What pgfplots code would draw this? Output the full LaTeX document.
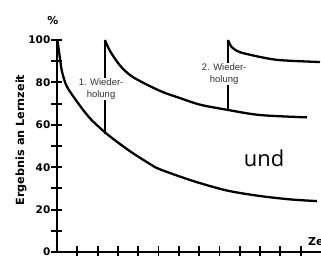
\documentclass[border=0pt]{standalone}
\usepackage{pgfplots}
\pgfplotsset{compat=1.18}
\usepackage{fontspec}
\setmainfont{Liberation Sans}
\newfontfamily\undfont{Open Sans}
\newfontfamily\boldfont{DejaVu Sans}[UprightFont=* Bold]
\begin{document}
\begin{tikzpicture}
\useasboundingbox (-57bp,-4bp) rectangle (264bp,252bp);
\begin{axis}[
  at={(0,0)}, anchor=south west,
  scale only axis, width=264bp, height=212bp,
  xmin=0, xmax=13, ymin=0, ymax=100,
  axis lines=left,
  axis line style={-, line width=2.4bp},
  clip=false,
  ytick={0,20,...,100}, minor ytick={10,30,...,90},
  xtick={1,...,12}, xticklabels={},
  tick align=center,
  major tick length=11bp, minor tick length=11bp,
  every tick/.style={black, line width=1.9bp},
  yticklabel style={font=\boldfont\fontsize{10.5}{12}\selectfont, inner sep=1bp},
  /pgf/number format/assume math mode=true,
]
\addplot[black, line width=2.3bp, smooth, tension=0.5] coordinates {
 (0.02,100) (0.15,91) (0.25,85) (0.49,78) (1.13,69) (1.63,63) (2.12,58.5) (2.61,54.5)
 (3.6,47.5) (4.58,41.5) (5.07,39) (6.7,33.5) (8.37,29) (10,26.4) (11.5,24.8) (12.8,24)};
\addplot[black, line width=2.3bp] coordinates {(2.36,55.5) (2.36,100)};
\addplot[black, line width=2.3bp, smooth, tension=0.5] coordinates {
 (2.36,100) (2.6,95) (3.1,88) (3.74,82.5) (5.07,76) (6.06,72.6) (7.04,69.5) (8.42,67)
 (10,64.6) (12.3,63.5)};
\addplot[black, line width=2.3bp] coordinates {(8.42,67) (8.42,100)};
\addplot[black, line width=2.3bp, smooth, tension=0.5] coordinates {
 (8.42,100) (8.6,96.7) (9.0,94.3) (10,92) (10.98,90.5) (12.95,89.6)};
\node[fill=white, align=center, inner sep=1bp, text=black!80,
  font=\fontsize{9.5}{12}\selectfont] at (axis cs:2.17,76.9) {1. Wieder-\\holung};
\node[fill=white, align=center, inner sep=1bp, text=black!80,
  font=\fontsize{9.5}{12}\selectfont] at (axis cs:8.23,84) {2. Wieder-\\holung};
\node[font=\undfont\fontsize{22}{24}\selectfont] at (axis cs:10.2,44.3) {und};
\node[font=\boldfont\fontsize{11}{12}\selectfont] at (axis cs:-0.2,109.4) {\%};
\node[anchor=west, inner sep=0pt, font=\boldfont\fontsize{11}{12}\selectfont] at (axis cs:12.36,5.2) {Zeit};
\node[rotate=90, font=\boldfont\fontsize{11.3}{12}\selectfont] at (axis cs:-1.77,52.8) {Ergebnis an Lernzeit};
\end{axis}
\end{tikzpicture}
\end{document}
